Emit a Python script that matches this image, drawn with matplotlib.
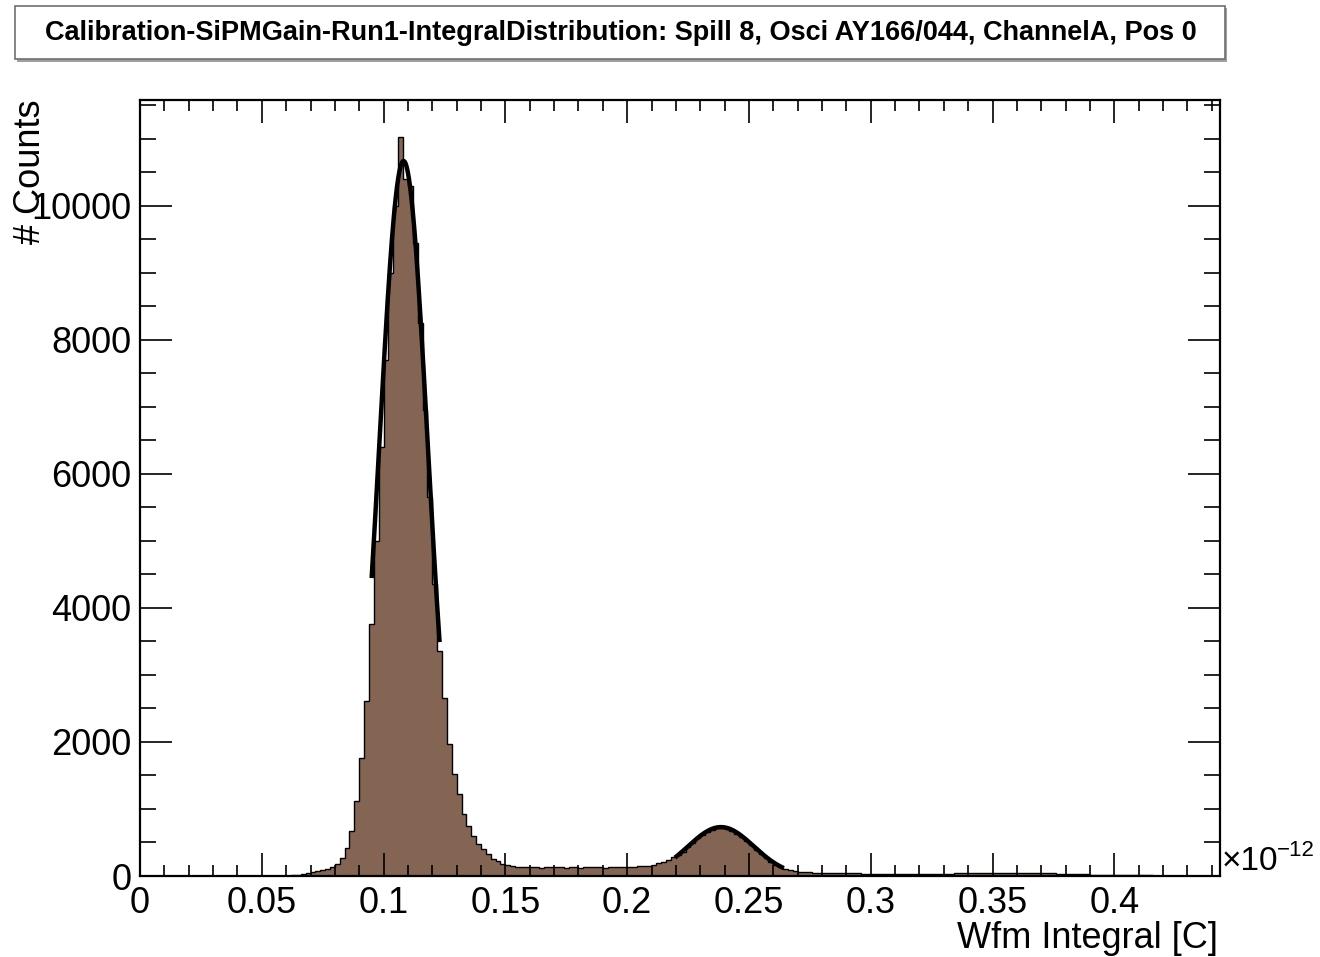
import numpy as np
import matplotlib
matplotlib.use("Agg")
import matplotlib.pyplot as plt
from matplotlib.patches import Rectangle
from matplotlib.ticker import MultipleLocator

plt.rcParams['font.family'] = ['Liberation Sans', 'DejaVu Sans']

# ---------------- data ----------------
title = "Calibration-SiPMGain-Run1-IntegralDistribution: Spill 8, Osci AY166/044, ChannelA, Pos 0"
x_title = "Wfm Integral [C]"
y_title = "# Counts"

bin_start = 0.0      # in units of 1e-12 C
bin_width = 0.002
x_max = 0.4434
y_max = 11580

counts = (
    [0] * 30 +
    [5, 10, 20, 35, 50, 65, 75, 90, 110, 135,
     180, 270, 420, 670, 1120, 1760, 2610, 3760, 5000, 6400,
     7700, 9000, 10000, 11030, 10400, 10300, 9450, 8250, 6950, 5650,
     4350, 3360, 2660, 1970, 1520, 1220, 925, 750, 600, 480,
     400, 330, 250, 225, 185, 165, 150, 140] +
    [135, 130, 128, 132, 125, 130, 127, 133, 129, 126, 131, 128, 124,
     130, 127, 132, 129, 126, 130, 128, 133, 131, 135, 138, 142, 148] +
    [155, 170, 190, 215, 245, 280, 320, 365, 430, 495,
     560, 610, 660, 690, 710, 715, 700, 675, 630, 585,
     525, 460, 395, 330, 270, 215, 170, 135, 105, 85, 72, 62] +
    [58, 55, 52, 50, 48, 46, 45, 43, 42, 40,
     39, 38, 37, 36, 36, 35, 34, 34, 33, 33, 32, 32, 31, 31, 30,
     31, 32, 33, 34, 35, 36, 38, 39, 40, 41, 42, 43, 44, 45, 45,
     46, 46, 47, 47, 46, 46, 45, 44, 43, 42, 40, 38, 36, 34, 32,
     30, 28, 26, 24, 22, 20, 18, 16, 15, 14, 13, 12, 11, 10, 9,
     8, 8, 7, 7, 6, 6, 5, 5, 4, 4, 3, 3, 3, 2, 2, 2]
)

# Gaussian fit results (amplitude, mean, sigma, fit range)
fit1_amp, fit1_mean, fit1_sigma, fit1_range = 10670, 0.1082, 0.0099, (0.0951, 0.1230)
fit2_amp, fit2_mean, fit2_sigma, fit2_range = 730, 0.2385, 0.0135, (0.2196, 0.2643)

# ---------------- plot ----------------
W, H = 1320, 957
fig = plt.figure(figsize=(W / 100, H / 100), dpi=100)
ax = fig.add_axes([140 / W, 1 - 876 / H, (1220 - 140) / W, (876 - 100) / H])

counts = np.array(counts, dtype=float)
edges = bin_start + bin_width * np.arange(len(counts) + 1)

fill_color = '#846452'
ax.stairs(counts, edges, fill=True, color=fill_color, lw=0)
ax.stairs(counts, edges, fill=False, color='black', lw=1.0)

def gauss(x, a, m, s):
    return a * np.exp(-0.5 * ((x - m) / s) ** 2)

for a, m, s, (lo, hi) in [(fit1_amp, fit1_mean, fit1_sigma, fit1_range),
                          (fit2_amp, fit2_mean, fit2_sigma, fit2_range)]:
    xs = np.linspace(lo, hi, 200)
    ax.plot(xs, gauss(xs, a, m, s), color='black', lw=3.2, solid_capstyle='butt')

ax.set_xlim(0, x_max)
ax.set_ylim(0, y_max)

ax.xaxis.set_major_locator(MultipleLocator(0.05))
ax.xaxis.set_minor_locator(MultipleLocator(0.01))
ax.yaxis.set_major_locator(MultipleLocator(2000))
ax.yaxis.set_minor_locator(MultipleLocator(500))
ax.set_xticks(np.arange(0, 0.41, 0.05))
ax.set_xticklabels(['0', '0.05', '0.1', '0.15', '0.2', '0.25', '0.3', '0.35', '0.4'])
ax.set_yticks(np.arange(0, 10001, 2000))
ax.set_yticklabels(['0', '2000', '4000', '6000', '8000', '10000'])

for sp in ax.spines.values():
    sp.set_linewidth(1.6)
ax.tick_params(axis='both', which='both', direction='in', top=True, right=True,
               width=1.2, labelsize=26, colors='black')
ax.tick_params(axis='x', which='major', length=16.5, pad=7)
ax.tick_params(axis='x', which='minor', length=8)
ax.tick_params(axis='y', which='major', length=23, pad=6)
ax.tick_params(axis='y', which='minor', length=11.5)

# axis titles
fig.text(1218 / W, 1 - 938 / H, x_title, ha='right', va='center', fontsize=26)
fig.text(30 / W, 1 - 100 / H, y_title, ha='center', va='top', rotation=90, fontsize=26)

# exponent label
fig.text(1222 / W, 1 - 862 / H, "\u00d710", ha='left', va='center', fontsize=24)
fig.text(1277 / W, 1 - 851 / H, "\u221212", ha='left', va='center', fontsize=16)

# title box
fig.patches.append(Rectangle((17 / W, 1 - 62 / H), (1227 - 17) / W, (62 - 8) / H,
                             transform=fig.transFigure, facecolor='#a0a0a0',
                             edgecolor='none', zorder=0))
fig.patches.append(Rectangle((15 / W, 1 - 59 / H), (1225 - 15) / W, (59 - 6) / H,
                             transform=fig.transFigure, facecolor='white',
                             edgecolor='#707070', lw=1.2, zorder=1))
fig.text(621 / W, 1 - 33 / H, title, ha='center', va='center', fontsize=19.5,
         fontweight='bold', zorder=2)

fig.savefig('out.png', dpi=100)
